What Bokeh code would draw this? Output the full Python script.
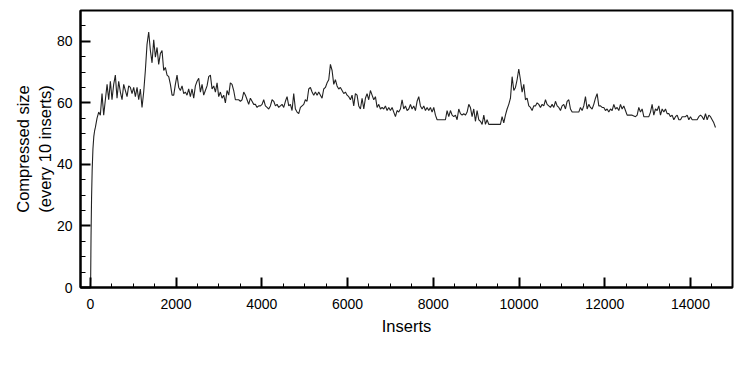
from bokeh.plotting import figure
from bokeh.models import Range1d, SingleIntervalTicker
from bokeh.embed import file_html
from bokeh.resources import INLINE

inserts = [0, 8, 16, 28, 42, 60, 80, 100, 117, 156, 195, 233, 272, 311, 350, 390, 428, 467, 505, 544,
           583, 622, 661, 700, 739, 778, 817, 856, 894, 933, 972, 1011, 1050, 1089, 1128, 1166, 1205, 1244,
           1283, 1322, 1361, 1400, 1439, 1478, 1517, 1556, 1594, 1633, 1672, 1711, 1750, 1789, 1828, 1867,
           1906, 1945, 1983, 2022, 2061, 2100, 2139, 2178, 2216, 2255, 2294, 2333, 2372, 2411, 2450, 2489,
           2528, 2567, 2606, 2644, 2683, 2722, 2761, 2800, 2839, 2878, 2917, 2956, 2994, 3033, 3072, 3111,
           3150, 3189, 3228, 3266, 3305, 3344, 3383, 3422, 3461, 3500, 3539, 3578, 3617, 3656, 3694, 3733,
           3772, 3811, 3850, 3889, 3928, 3967, 4006, 4044, 4083, 4122, 4161, 4200, 4239, 4278, 4317, 4356,
           4394, 4433, 4472, 4511, 4550, 4589, 4628, 4667, 4705, 4744, 4783, 4822, 4861, 4900, 4939, 4978,
           5016, 5055, 5094, 5133, 5172, 5211, 5250, 5289, 5328, 5367, 5405, 5444, 5483, 5522, 5561, 5600,
           5639, 5678, 5716, 5755, 5794, 5833, 5872, 5911, 5950, 5989, 6028, 6067, 6105, 6144, 6183, 6222,
           6261, 6300, 6339, 6378, 6417, 6455, 6494, 6533, 6572, 6611, 6650, 6689, 6728, 6767, 6806, 6844,
           6883, 6922, 6961, 7000, 7039, 7078, 7117, 7155, 7194, 7233, 7272, 7311, 7350, 7389, 7428, 7467,
           7505, 7544, 7583, 7622, 7661, 7700, 7739, 7778, 7817, 7856, 7894, 7933, 7972, 8011, 8050, 8089,
           8283, 8322, 8361, 8400, 8439, 8478, 8517, 8555, 8594, 8633, 8672, 8711, 8750, 8789, 8828, 8866,
           8905, 8944, 8983, 9022, 9061, 9100, 9139, 9178, 9217, 9255, 9294, 9566, 9605, 9644, 9683, 9722,
           9761, 9800, 9839, 9878, 9917, 9955, 9994, 10033, 10072, 10111, 10150, 10189, 10228, 10267, 10305,
           10344, 10383, 10422, 10461, 10500, 10539, 10578, 10617, 10655, 10694, 10733, 10772, 10811, 10850,
           10889, 10928, 10967, 11005, 11044, 11083, 11122, 11161, 11200, 11239, 11394, 11433, 11472, 11511,
           11550, 11589, 11628, 11666, 11705, 11744, 11783, 11822, 11861, 11900, 11939, 11978, 12016, 12055,
           12094, 12133, 12172, 12211, 12250, 12289, 12328, 12367, 12405, 12444, 12483, 12522, 12561, 12639,
           12717, 12756, 12794, 12833, 12872, 12911, 13028, 13067, 13105, 13144, 13183, 13222, 13261, 13300,
           13339, 13378, 13417, 13455, 13494, 13533, 13572, 13611, 13650, 13689, 13728, 13767, 13806, 13844,
           13883, 13922, 13961, 14000, 14039, 14155, 14194, 14233, 14272, 14311, 14350, 14389, 14428, 14467,
           14505, 14544, 14583]

sizes = [0, 4, 17, 29, 38, 45, 49, 51, 52, 55, 57, 56, 63, 56, 61, 66, 61, 67, 61, 66,
         69, 61.5, 67, 63.5, 61, 66, 64, 62, 65.5, 65, 63, 65, 62, 65, 61, 64.5, 58.5, 63.5,
         70.5, 79, 83, 77, 73, 80.5, 74.8, 78, 72.5, 76, 77, 70.5, 71.5, 69, 68.5, 66,
         62.5, 62.5, 66, 69, 65, 64, 65.5, 63, 63.5, 62.5, 64.5, 62, 64.5, 61.5, 65.5, 67,
         68, 63.5, 66, 62.5, 64, 65.5, 68.5, 69, 64.5, 65.5, 63.5, 66.5, 62, 63.5, 61.5, 62.5,
         60, 64, 62.5, 66.5, 66, 64, 61, 61, 61, 60.5, 61, 63.5, 62.5, 61, 59.5, 61.5,
         60.5, 59.5, 59.5, 58.5, 59, 59, 59.5, 61, 59, 58.5, 58, 59, 61, 60.5, 59, 59.5,
         58.5, 59, 59.5, 58.5, 60.5, 62, 59, 59.5, 57.5, 63, 58, 57, 56.5, 58.5, 59, 59.5,
         61, 60.5, 64.5, 65, 63.5, 62.5, 63.5, 62.5, 63.5, 62.5, 61.5, 64.5, 65, 66.5, 67.5, 72.5,
         70.5, 66, 67.5, 65.5, 64.5, 65, 64, 63, 63.5, 62.5, 62, 61, 62.5, 59, 63, 62.5,
         59, 58, 61.5, 58, 61.5, 63, 61, 64, 62.5, 61, 62, 58.5, 59.5, 58, 58.5, 58,
         59, 57.5, 58.5, 57.5, 58.5, 57, 55.5, 57.5, 57, 58, 61, 58, 59, 57.5, 58, 59.5,
         58, 59, 57.5, 60.5, 62, 59, 58, 59, 57.5, 58.5, 57.5, 58.5, 57, 58.5, 56, 54.5,
         54.5, 57.5, 55.5, 57.5, 56, 55.5, 56, 54.5, 58, 56.5, 56, 56.5, 56, 57, 59.5, 58.5,
         55.5, 58, 54, 57.5, 54.5, 54, 53, 56, 53, 54.5, 53, 53, 55.5, 53.5, 56, 58,
         59.5, 61.5, 68.5, 64, 65, 67.5, 71, 67.5, 63.5, 66, 61, 61.5, 59, 58.5, 57.5,
         59, 59, 60, 59.5, 58.5, 59.5, 59, 61, 59.5, 59, 58.5, 59.5, 58.5, 60.5,
         59, 58.5, 57.5, 59, 59.5, 58, 60.5, 61, 58, 57, 57, 58.5, 57.5, 59,
         62, 58, 59.5, 58.5, 58, 59.5, 61.5, 63, 59, 59, 58.5, 58.5, 57.5, 58,
         57, 58, 57.5, 59.5, 58, 58.5, 57.5, 59.5, 58, 59, 57.5, 56, 56, 56,
         55.5, 56, 58.5, 57, 58, 55.5, 55.5, 57, 59.5, 56, 58, 57.5, 59, 56,
         58, 57, 58, 56.5, 56.5, 55.5, 56, 54.5, 55.5, 56, 54.5, 54.5, 55.5, 55.5,
         55.5, 56, 54.5, 55.5, 54.5, 54.5, 55.5, 56, 55.5, 54.5, 56.5, 54.5, 56, 55.5,
         54.5, 53.5, 52]

x_ticks_interval = 2000
y_ticks_interval = 20
x_label = "Inserts"
y_label = "Compressed size\n(every 10 inserts)"

FONT = "Liberation Sans"

p = figure(frame_width=652, frame_height=277,
           x_range=Range1d(-230, 14980), y_range=Range1d(0, 90),
           output_backend="svg", toolbar_location=None,
           min_border_left=80, min_border_right=8, min_border_top=10, min_border_bottom=60)

p.line(inserts, sizes, line_color="#222222", line_width=1.1)

p.xgrid.visible = False
p.ygrid.visible = False
p.outline_line_color = "black"
p.outline_line_width = 2
p.background_fill_color = "white"
p.border_fill_color = "white"

p.xaxis.ticker = SingleIntervalTicker(interval=x_ticks_interval, num_minor_ticks=4)
p.yaxis.ticker = SingleIntervalTicker(interval=y_ticks_interval, num_minor_ticks=4)

for ax in (p.xaxis, p.yaxis):
    ax.axis_line_width = 2
    ax.axis_line_color = "black"
    ax.major_tick_in = 10
    ax.major_tick_out = 0
    ax.major_tick_line_width = 2
    ax.minor_tick_out = 0
    ax.minor_tick_line_width = 1
    ax.major_label_text_font = FONT
    ax.major_label_text_font_size = "14px"
    ax.major_label_text_color = "black"
    ax.axis_label_text_font = FONT
    ax.axis_label_text_font_size = "16.5px"
    ax.axis_label_text_font_style = "normal"
    ax.axis_label_text_color = "black"

p.xaxis.minor_tick_in = 4
p.yaxis.minor_tick_in = 5
p.xaxis.major_label_standoff = 11
p.yaxis.major_label_standoff = 8
p.xaxis.axis_label = x_label
p.yaxis.axis_label = y_label
p.xaxis.axis_label_standoff = 5
p.yaxis.axis_label_standoff = 0

open("out.html", "w").write(file_html(p, INLINE))
